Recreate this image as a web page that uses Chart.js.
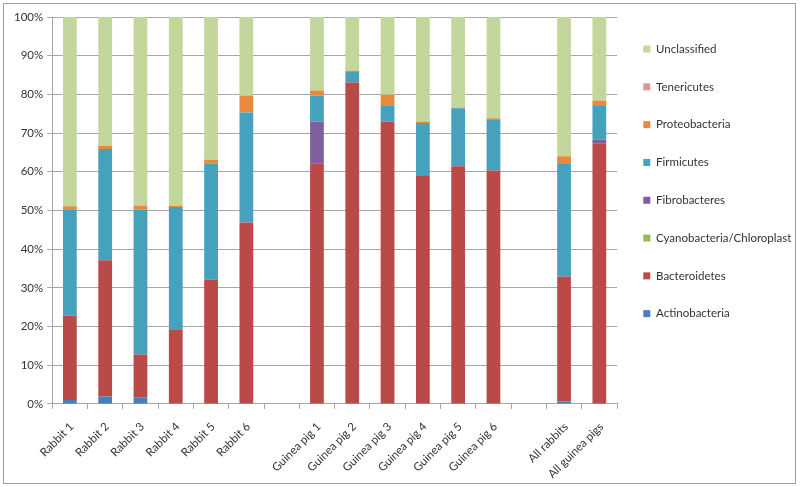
<!DOCTYPE html>
<html>
<head>
<meta charset="utf-8">
<script src="https://cdn.jsdelivr.net/npm/chart.js@4"></script>
<style>
  html, body { margin: 0; padding: 0; background: #fff; }
  #wrap { width: 800px; height: 487px; }
</style>
</head>
<body>
<div id="wrap"><canvas id="c" width="800" height="487"></canvas></div>
<script>
const categories = ['Rabbit 1','Rabbit 2','Rabbit 3','Rabbit 4','Rabbit 5','Rabbit 6','',
  'Guinea pig 1','Guinea pig 2','Guinea pig 3','Guinea pig 4','Guinea pig 5','Guinea pig 6','',
  'All rabbits','All guinea pigs'];
const yTicks = [0,10,20,30,40,50,60,70,80,90,100];

const actinobacteria = [1.0,1.9,1.7,0,0,0,null,0,0,0,0,0,0,null,0.6,0];
const bacteroidetes  = [21.8,35.2,11.1,19.1,32.1,46.9,null,62.2,83.1,72.9,59.1,61.4,60.3,null,32.3,67.4];
const cyanobacteria  = [0,0,0,0,0,0,null,0,0,0,0,0,0,null,0,0];
const fibrobacteres  = [0,0,0,0,0,0,null,10.8,0,0,0,0,0,null,0,0.9];
const firmicutes     = [27.5,28.8,37.4,31.8,30.0,28.4,null,6.7,2.7,4.3,13.5,15.0,13.1,null,29.1,8.9];
const proteobacteria = [0.8,0.8,1.1,0.3,1.0,4.4,null,1.3,0.3,2.7,0.4,0.2,0.4,null,2.0,1.2];
const tenericutes    = [0,0,0,0,0,0,null,0,0,0,0,0,0,null,0,0];
const unclassified   = [48.9,33.3,48.7,48.8,36.9,20.3,null,19.0,13.9,20.1,27.0,23.4,26.2,null,36.0,21.6];

const seriesNames  = ['Actinobacteria','Bacteroidetes','Cyanobacteria/Chloroplast','Fibrobacteres','Firmicutes','Proteobacteria','Tenericutes','Unclassified'];
const seriesData   = [actinobacteria,bacteroidetes,cyanobacteria,fibrobacteres,firmicutes,proteobacteria,tenericutes,unclassified];
const seriesColors = ['#4A7EBB','#B94A48','#98B954','#7D60A0','#46A1BD','#E8893E','#D99694','#C3D69B'];

const FONT = 'Lato, "Open Sans", sans-serif';
const TEXT = '#333333';
const GRID = '#a6a6a6';

const borderPlugin = {
  id: 'outerBorder',
  beforeDraw(chart) {
    const ctx = chart.ctx;
    ctx.save();
    ctx.fillStyle = '#fff';
    ctx.fillRect(0, 0, chart.width, chart.height);
    ctx.restore();
  },
  afterDraw(chart) {
    const ctx = chart.ctx;
    ctx.save();
    ctx.strokeStyle = '#a0a0a0';
    ctx.lineWidth = 1;
    ctx.strokeRect(3.5, 3.5, 792, 480);
    ctx.restore();
  }
};

new Chart(document.getElementById('c'), {
  type: 'bar',
  data: {
    labels: categories,
    datasets: seriesNames.map((n, i) => ({
      label: n,
      data: seriesData[i],
      backgroundColor: seriesColors[i],
      borderWidth: 0,
      barPercentage: 0.39,
      categoryPercentage: 1.0
    }))
  },
  options: {
    responsive: false,
    animation: false,
    devicePixelRatio: 1,
    layout: { padding: { left: 10, right: 0, top: 17, bottom: -5 } },
    plugins: {
      tooltip: { enabled: false },
      legend: {
        position: 'right',
        align: 'start',
        reverse: true,
        maxWidth: 183,
        labels: {
          boxWidth: 7,
          boxHeight: 7,
          padding: 26.3,
          color: TEXT,
          font: { family: FONT, size: 11.5 }
        }
      }
    },
    scales: {
      x: {
        stacked: true,
        grid: { display: true, drawOnChartArea: false, drawTicks: true, tickLength: 5, color: GRID, offset: true },
        border: { display: true, color: GRID },
        ticks: {
          autoSkip: false,
          minRotation: 45,
          maxRotation: 45,
          color: TEXT,
          labelOffset: 2,
          padding: 11,
          font: { family: FONT, size: 11.5 }
        }
      },
      y: {
        stacked: true,
        min: 0,
        max: 100,
        afterBuildTicks(axis) { axis.ticks = yTicks.map(v => ({ value: v })); },
        grid: { color: GRID, tickLength: 5, drawTicks: true },
        border: { display: true, color: GRID },
        ticks: {
          color: TEXT,
          padding: 4,
          font: { family: FONT, size: 11.5 },
          callback: v => v + '%'
        }
      }
    }
  },
  plugins: [borderPlugin]
});
</script>
</body>
</html>
